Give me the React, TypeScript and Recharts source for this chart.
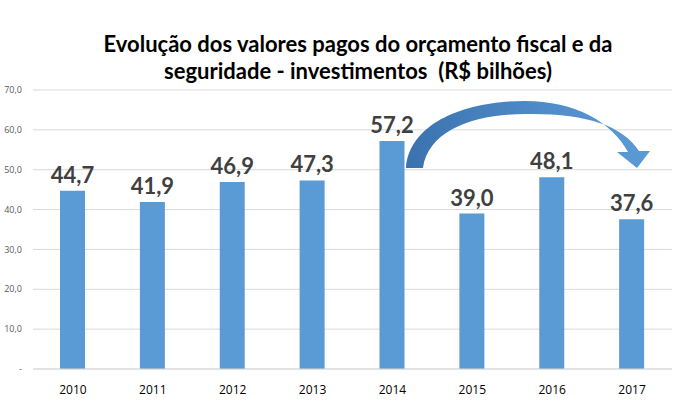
import React from 'react';
import { Bar, BarChart, CartesianGrid, LabelList, XAxis, YAxis } from 'recharts';

const years = ['2010', '2011', '2012', '2013', '2014', '2015', '2016', '2017'];
const paidValues = [44.7, 41.9, 46.9, 47.3, 57.2, 39.0, 48.1, 37.6];
const yTicks = [0, 10, 20, 30, 40, 50, 60, 70];

const data = years.map((year, i) => ({ year, value: paidValues[i] }));

const fmt = (v: number) => (v === 0 ? '-' : v.toFixed(1).replace('.', ','));

function CurvedArrow() {
  return (
    <svg
      width={687}
      height={404}
      style={{ position: 'absolute', top: 0, left: 0, pointerEvents: 'none' }}
    >
      <defs>
        <linearGradient id="arrowFill" x1="0" y1="0" x2="1" y2="0">
          <stop offset="0%" stopColor="#3a72ae" />
          <stop offset="55%" stopColor="#4f8bc9" />
          <stop offset="100%" stopColor="#5b9bd5" />
        </linearGradient>
      </defs>
      <path
        d="M406,168 C410,120 470,101 525,101 C575,101 612,122 628,152 L617,152 L637,168 L650,151 L639,151 C622,125 585,113 525,114 C475,114 428,130 423,168 Z"
        fill="url(#arrowFill)"
      />
    </svg>
  );
}

export default function App() {
  return (
    <div
      style={{
        position: 'fixed',
        top: 0,
        left: 0,
        width: 687,
        height: 404,
        background: '#fff',
        fontFamily: 'Lato, "Open Sans", sans-serif',
      }}
    >
      <div
        style={{
          position: 'absolute',
          top: 30,
          left: 0,
          width: 716,
          textAlign: 'center',
          fontSize: 22,
          fontWeight: 700,
          lineHeight: '27px',
          color: '#000',
        }}
      >
        Evolução dos valores pagos do orçamento fiscal e da
        <br />
        seguridade - investimentos&nbsp;&nbsp;(R$ bilhões)
      </div>
      <BarChart
        width={687}
        height={404}
        data={data}
        margin={{ top: 90, right: 15, left: 0, bottom: 0 }}
        barSize={25}
      >
        <CartesianGrid vertical={false} stroke="#d9d9d9" />
        <XAxis
          dataKey="year"
          axisLine={{ stroke: '#d9d9d9' }}
          tickLine={false}
          tickMargin={10}
          height={35}
          tick={{ fontSize: 12, fill: '#000', fontFamily: '"Open Sans", sans-serif' }}
        />
        <YAxis
          domain={[0, 70]}
          ticks={yTicks}
          width={33}
          axisLine={false}
          tickLine={false}
          tickSize={0}
          tickMargin={11}
          tickFormatter={fmt}
          tick={{ fontSize: 9, fill: '#595959', fontFamily: '"Open Sans", sans-serif' }}
        />
        <Bar dataKey="value" fill="#5b9bd5" isAnimationActive={false}>
          <LabelList
            dataKey="value"
            position="top"
            offset={8}
            formatter={(v: number) => fmt(v)}
            style={{ fontSize: 22, fontWeight: 700, fill: '#404040' }}
          />
        </Bar>
      </BarChart>
      <CurvedArrow />
    </div>
  );
}
